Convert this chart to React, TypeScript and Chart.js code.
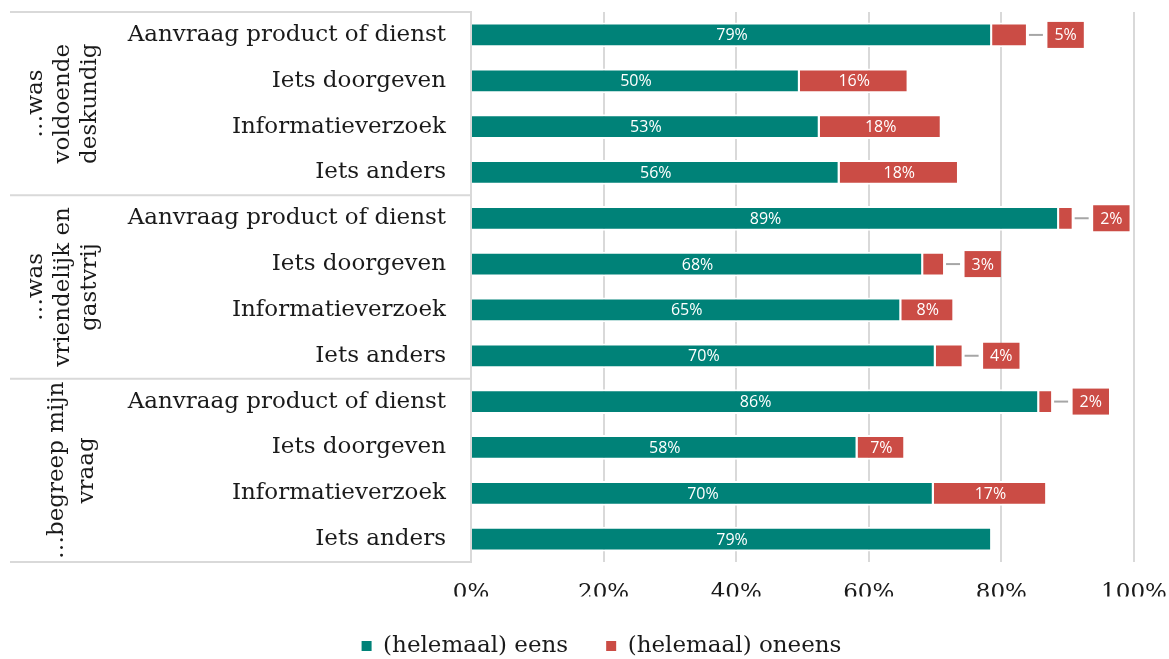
import React, { useEffect, useRef } from "react";
import { Chart, registerables } from "chart.js";

Chart.register(...registerables);

// ---- data ----
const categories = [
  "Aanvraag product of dienst", "Iets doorgeven", "Informatieverzoek", "Iets anders",
  "Aanvraag product of dienst", "Iets doorgeven", "Informatieverzoek", "Iets anders",
  "Aanvraag product of dienst", "Iets doorgeven", "Informatieverzoek", "Iets anders",
];
const groupLabels = [
  ["…was", "voldoende", "deskundig"],
  ["…was", "vriendelijk en", "gastvrij"],
  ["…begreep mijn", "vraag"],
];
const seriesNames = ["(helemaal) eens", "(helemaal) oneens"];
const eens = [78.6, 49.6, 52.6, 55.6, 88.7, 68.2, 64.9, 70.1, 85.7, 58.3, 69.8, 78.6];
const oneens = [5.4, 16.4, 18.4, 18.0, 2.2, 3.3, 8.0, 4.2, 2.1, 7.2, 17.1, 0];
const xTickValues = [0, 20, 40, 60, 80, 100];

// ---- style ----
const TEAL = "#008278";
const RED = "#CB4C45";
const GRID = "#d9d9d9";
const TEXT = "#1a1a1a";
const SERIF = '"DejaVu Serif", serif';
const SANS = '"Open Sans", sans-serif';

const pct = (v: number) => `${Math.round(v)}%`;

const barLabelPlugin = {
  id: "barLabels",
  afterDatasetsDraw(chart: any) {
    const ctx = chart.ctx;
    const m0 = chart.getDatasetMeta(0);
    const m1 = chart.getDatasetMeta(1);
    ctx.save();
    ctx.font = `16px ${SANS}`;
    ctx.textAlign = "center";
    ctx.textBaseline = "middle";
    eens.forEach((v, i) => {
      const b = m0.data[i];
      ctx.fillStyle = "#ffffff";
      ctx.fillText(pct(v), (b.x + b.base) / 2, b.y + 1);
    });
    oneens.forEach((v, i) => {
      if (!v) return;
      const b = m1.data[i];
      const t = pct(v);
      const tw = ctx.measureText(t).width;
      const w = b.x - b.base;
      if (w >= tw + 20) {
        ctx.fillStyle = "#ffffff";
        ctx.fillText(t, (b.x + b.base) / 2, b.y + 1);
      } else {
        ctx.strokeStyle = "#a6a6a6";
        ctx.lineWidth = 2;
        ctx.beginPath();
        ctx.moveTo(b.x + 1, b.y);
        ctx.lineTo(b.x + 15, b.y);
        ctx.stroke();
        const bw = tw + 14;
        const bh = 26;
        const bx = b.x + 19.5;
        ctx.fillStyle = RED;
        ctx.fillRect(bx, b.y - bh / 2, bw, bh);
        ctx.fillStyle = "#ffffff";
        ctx.fillText(t, bx + bw / 2, b.y + 1);
      }
    });
    ctx.restore();
  },
};

const groupPlugin = {
  id: "groups",
  afterDraw(chart: any) {
    const { ctx, chartArea } = chart;
    const y = chart.scales.y;
    const per = categories.length / groupLabels.length;
    const bounds = [chartArea.top];
    for (let g = 1; g < groupLabels.length; g++) {
      bounds.push((y.getPixelForValue(g * per - 1) + y.getPixelForValue(g * per)) / 2);
    }
    bounds.push(chartArea.bottom);
    ctx.save();
    ctx.strokeStyle = GRID;
    ctx.lineWidth = 2;
    bounds.forEach((b: number) => {
      ctx.beginPath();
      ctx.moveTo(10, b);
      ctx.lineTo(chartArea.left, b);
      ctx.stroke();
    });
    ctx.font = `23px ${SERIF}`;
    ctx.fillStyle = TEXT;
    ctx.textAlign = "center";
    ctx.textBaseline = "alphabetic";
    groupLabels.forEach((lines, g) => {
      const cy = (bounds[g] + bounds[g + 1]) / 2;
      const n = lines.length;
      const lh = n === 3 ? 27 : 30;
      const cx = n === 3 ? 69 : 78;
      lines.forEach((line, i) => {
        const bx = cx + (i - (n - 1) / 2) * lh;
        ctx.save();
        ctx.translate(bx, cy);
        ctx.rotate(-Math.PI / 2);
        ctx.fillText(line, 0, 0);
        ctx.restore();
      });
    });
    ctx.restore();
  },
};

const zeroPadding = (scale: any) => {
  scale.paddingTop = 0;
  scale.paddingBottom = 0;
  scale.paddingLeft = 0;
  scale.paddingRight = 0;
};

export default function App() {
  const ref = useRef<HTMLCanvasElement | null>(null);

  useEffect(() => {
    document.body.style.margin = "0";
    const canvas = ref.current;
    if (!canvas) return;
    const chart = new Chart(canvas, {
      type: "bar",
      data: {
        labels: categories,
        datasets: [
          {
            label: seriesNames[0],
            data: eens,
            backgroundColor: TEAL,
            borderColor: "#ffffff",
            borderWidth: 2,
            barPercentage: 0.54,
            categoryPercentage: 1,
          },
          {
            label: seriesNames[1],
            data: oneens,
            backgroundColor: RED,
            borderColor: "#ffffff",
            borderWidth: 2,
            barPercentage: 0.54,
            categoryPercentage: 1,
          },
        ],
      },
      options: {
        indexAxis: "y",
        responsive: false,
        animation: false,
        layout: { padding: { left: 69, right: 35, top: 12, bottom: -8.5 } },
        scales: {
          x: {
            stacked: true,
            min: 0,
            max: 100,
            afterBuildTicks: (scale: any) => {
              scale.ticks = xTickValues.map((v) => ({ value: v }));
            },
            afterFit: (scale: any) => {
              scale.height = 34.5;
              zeroPadding(scale);
            },
            ticks: {
              callback: (v: any) => `${v}%`,
              font: { family: SERIF, size: 23 },
              color: TEXT,
              padding: 17,
              maxRotation: 0,
            },
            grid: { color: GRID, lineWidth: 2, drawTicks: false },
            border: { display: false },
          },
          y: {
            stacked: true,
            afterFit: (scale: any) => {
              scale.width = 402;
              zeroPadding(scale);
            },
            ticks: {
              font: { family: SERIF, size: 23 },
              color: TEXT,
              padding: 25,
            },
            grid: { display: false, drawTicks: false },
            border: { display: true, color: GRID, width: 2 },
          },
        },
        plugins: {
          legend: {
            position: "bottom",
            labels: {
              font: { family: SERIF, size: 23 },
              color: TEXT,
              boxWidth: 10,
              boxHeight: 10,
              padding: 38,
              generateLabels: (c: any) =>
                Chart.defaults.plugins.legend.labels
                  .generateLabels(c)
                  .map((l: any) => ({ ...l, lineWidth: 0 })),
            },
          },
          tooltip: { enabled: false },
        },
      },
      plugins: [barLabelPlugin, groupPlugin],
    } as any);
    return () => chart.destroy();
  }, []);

  return (
    <div style={{ width: 1169, height: 659 }}>
      <canvas ref={ref} width={1169} height={659} style={{ display: "block" }} />
    </div>
  );
}
